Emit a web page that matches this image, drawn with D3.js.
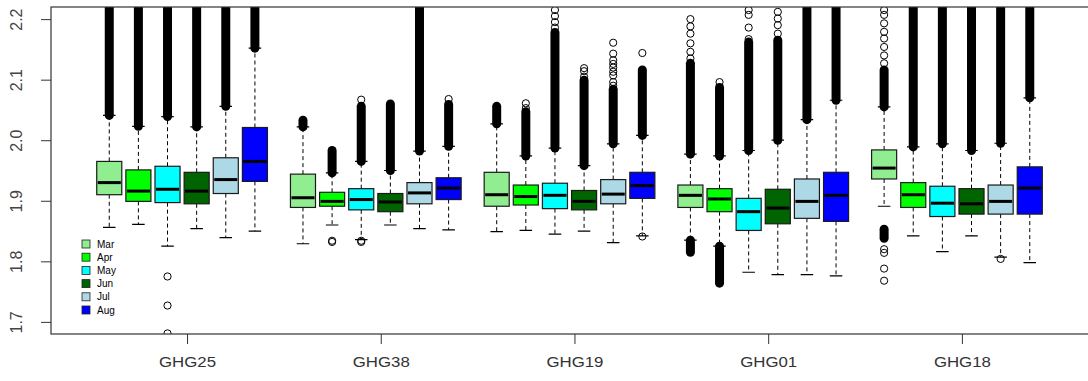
<!DOCTYPE html>
<html>
<head>
<meta charset="utf-8">
<script src="https://cdn.jsdelivr.net/npm/d3@7"></script>
<style>
  body { margin: 0; background: #fff; }
  svg { display: block; font-family: "Liberation Sans", Arial, sans-serif; }
</style>
</head>
<body>
<svg id="chart" width="1088" height="381"></svg>
<script>
const groups = ["GHG25", "GHG38", "GHG19", "GHG01", "GHG18"];
const months = ["Mar", "Apr", "May", "Jun", "Jul", "Aug"];
const monthColors = ["#90ee90", "#00ff00", "#00ffff", "#006400", "#add8e6", "#0000ff"];
const yTicks = [1.7, 1.8, 1.9, 2.0, 2.1, 2.2];

// one row per station, one value per month
const lowerWhisker = [
  [1.856, 1.861, 1.825, 1.854, 1.839, 1.850],
  [1.829, 1.860, 1.836, 1.860, 1.854, 1.852],
  [1.849, 1.851, 1.845, 1.850, 1.831, 1.842],
  [1.835, 1.825, 1.782, 1.778, 1.778, 1.776],
  [1.891, 1.842, 1.816, 1.842, 1.807, 1.798]
];
const q1 = [
  [1.910, 1.899, 1.897, 1.895, 1.912, 1.932],
  [1.889, 1.891, 1.885, 1.882, 1.895, 1.902],
  [1.891, 1.893, 1.887, 1.885, 1.895, 1.904],
  [1.889, 1.882, 1.851, 1.862, 1.871, 1.866],
  [1.936, 1.889, 1.874, 1.878, 1.878, 1.878]
];
const median = [
  [1.930, 1.916, 1.919, 1.916, 1.935, 1.965],
  [1.905, 1.899, 1.902, 1.898, 1.913, 1.921],
  [1.910, 1.907, 1.909, 1.899, 1.911, 1.925],
  [1.909, 1.903, 1.882, 1.888, 1.899, 1.909],
  [1.954, 1.910, 1.896, 1.895, 1.899, 1.921]
];
const q3 = [
  [1.965, 1.951, 1.957, 1.947, 1.971, 2.021],
  [1.944, 1.914, 1.920, 1.912, 1.930, 1.938],
  [1.947, 1.926, 1.929, 1.917, 1.935, 1.947],
  [1.926, 1.920, 1.904, 1.919, 1.936, 1.947],
  [1.984, 1.930, 1.924, 1.920, 1.926, 1.956]
];
const upperWhisker = [
  [2.041, 2.023, 2.039, 2.022, 2.056, 2.152],
  [2.022, 1.946, 1.965, 1.950, 1.982, 1.990],
  [2.027, 1.974, 1.987, 1.958, 1.994, 2.008],
  [1.977, 1.974, 1.983, 2.000, 2.034, 2.066],
  [2.055, 1.989, 1.994, 1.983, 1.995, 2.070]
];
// top of the dense run of outliers above each upper whisker
const highRunTop = [
  [2.25, 2.25, 2.25, 2.25, 2.25, 2.25],
  [2.033, 1.983, 2.056, 2.060, 2.25, 2.059],
  [2.056, 2.047, 2.178, 2.099, 2.084, 2.116],
  [2.127, 2.087, 2.162, 2.165, 2.25, 2.25],
  [2.116, 2.25, 2.25, 2.25, 2.25, 2.25]
];
// dense runs of low outliers: station, month, top, bottom
const lowRuns = [
  ["GHG01", "Mar", 1.835, 1.815],
  ["GHG01", "Apr", 1.825, 1.764],
  ["GHG18", "Mar", 1.853, 1.838]
];
// single outliers: station, month, value
const outliers = [
  ["GHG25", "May", 1.775], ["GHG25", "May", 1.727], ["GHG25", "May", 1.681],
  ["GHG38", "Apr", 1.832], ["GHG38", "Apr", 1.834], ["GHG38", "May", 1.832], ["GHG38", "May", 1.834],
  ["GHG38", "May", 2.067], ["GHG38", "Aug", 2.068],
  ["GHG19", "Apr", 2.053], ["GHG19", "Apr", 2.061],
  ["GHG19", "May", 2.186], ["GHG19", "May", 2.195], ["GHG19", "May", 2.205], ["GHG19", "May", 2.215],
  ["GHG19", "Jun", 2.105], ["GHG19", "Jun", 2.114], ["GHG19", "Jun", 2.119],
  ["GHG19", "Jul", 2.090], ["GHG19", "Jul", 2.096], ["GHG19", "Jul", 2.107], ["GHG19", "Jul", 2.113],
  ["GHG19", "Jul", 2.120], ["GHG19", "Jul", 2.126], ["GHG19", "Jul", 2.132], ["GHG19", "Jul", 2.143], ["GHG19", "Jul", 2.161],
  ["GHG19", "Aug", 2.144], ["GHG19", "Aug", 1.841],
  ["GHG01", "Mar", 2.135], ["GHG01", "Mar", 2.146], ["GHG01", "Mar", 2.160], ["GHG01", "Mar", 2.176],
  ["GHG01", "Mar", 2.188], ["GHG01", "Mar", 2.200],
  ["GHG01", "Apr", 2.096],
  ["GHG01", "May", 2.167], ["GHG01", "May", 2.186], ["GHG01", "May", 2.207], ["GHG01", "May", 2.215],
  ["GHG01", "Jun", 2.176], ["GHG01", "Jun", 2.190], ["GHG01", "Jun", 2.201], ["GHG01", "Jun", 2.212],
  ["GHG18", "Mar", 2.127], ["GHG18", "Mar", 2.140], ["GHG18", "Mar", 2.154], ["GHG18", "Mar", 2.168],
  ["GHG18", "Mar", 2.179], ["GHG18", "Mar", 2.193], ["GHG18", "Mar", 2.207], ["GHG18", "Mar", 2.215],
  ["GHG18", "Mar", 1.820], ["GHG18", "Mar", 1.814], ["GHG18", "Mar", 1.788], ["GHG18", "Mar", 1.768],
  ["GHG18", "Jul", 1.804]
];

const width = 1088, height = 381;
const plot = { left: 51, top: 7, bottom: 334, right: 1100 };
const groupStep = 6.65;     // slots between stations
const halfBox = 0.43;       // half box width, in slots
const runR = 4.5;           // outer radius of the circle runs

const svg = d3.select("#chart");

// slot position of every box; one slot ~ 29px
const x = d3.scaleLinear().domain([-2, 34]).range([plot.left, plot.left + 36 * 29.13]);
const y = d3.scaleLinear().domain([1.68, 2.22]).range([plot.bottom, plot.top]);
const slot = (g, m) => groups.indexOf(g) * groupStep + months.indexOf(m);

let boxes = [];
groups.forEach((g, gi) => months.forEach((m, mi) => {
  boxes.push({
    group: g, month: m, color: monthColors[mi], pos: slot(g, m),
    lo: lowerWhisker[gi][mi], q1: q1[gi][mi], med: median[gi][mi],
    q3: q3[gi][mi], hi: upperWhisker[gi][mi], runTop: highRunTop[gi][mi]
  });
}));

svg.append("defs").append("clipPath").attr("id", "clip")
  .append("rect")
  .attr("x", plot.left).attr("y", plot.top)
  .attr("width", plot.right - plot.left).attr("height", plot.bottom - plot.top);

const g = svg.append("g").attr("clip-path", "url(#clip)");

// whiskers
g.selectAll(".whisker").data(boxes).enter().append("path")
  .attr("class", "whisker")
  .attr("d", d => `M${x(d.pos)},${y(d.q3)}V${y(d.hi)}M${x(d.pos)},${y(d.q1)}V${y(d.lo)}`)
  .attr("stroke", "#000").attr("stroke-width", 1).attr("stroke-dasharray", "4,3").attr("fill", "none");

// staples
g.selectAll(".staple").data(boxes).enter().append("path")
  .attr("class", "staple")
  .attr("d", d => {
    let a = x(d.pos - halfBox / 2), b = x(d.pos + halfBox / 2);
    return `M${a},${y(d.hi)}H${b}M${a},${y(d.lo)}H${b}`;
  })
  .attr("stroke", "#000").attr("stroke-width", 1.2);

// dense outlier runs above
g.selectAll(".run").data(boxes.filter(d => d.runTop > d.hi)).enter().append("rect")
  .attr("class", "run")
  .attr("x", d => x(d.pos) - runR).attr("width", runR * 2)
  .attr("y", d => y(d.runTop) - runR)
  .attr("height", d => y(d.hi) - y(d.runTop) + runR * 2)
  .attr("rx", runR).attr("fill", "#000");

// dense outlier runs below
g.selectAll(".lowrun").data(lowRuns).enter().append("rect")
  .attr("class", "lowrun")
  .attr("x", d => x(slot(d[0], d[1])) - runR).attr("width", runR * 2)
  .attr("y", d => y(d[2]) - runR)
  .attr("height", d => y(d[3]) - y(d[2]) + runR * 2)
  .attr("rx", runR).attr("fill", "#000");

// boxes
g.selectAll(".box").data(boxes).enter().append("rect")
  .attr("class", "box")
  .attr("x", d => x(d.pos - halfBox)).attr("width", d => x(d.pos + halfBox) - x(d.pos - halfBox))
  .attr("y", d => y(d.q3)).attr("height", d => y(d.q1) - y(d.q3))
  .attr("fill", d => d.color).attr("stroke", "#1a1a1a").attr("stroke-width", 1.2);

g.selectAll(".median").data(boxes).enter().append("line")
  .attr("class", "median")
  .attr("x1", d => x(d.pos - halfBox) + 1).attr("x2", d => x(d.pos + halfBox) - 1)
  .attr("y1", d => y(d.med)).attr("y2", d => y(d.med))
  .attr("stroke", "#000").attr("stroke-width", 3);

// single outliers
g.selectAll(".out").data(outliers).enter().append("circle")
  .attr("class", "out")
  .attr("cx", d => x(slot(d[0], d[1]))).attr("cy", d => y(d[2]))
  .attr("r", 3.6).attr("fill", "none").attr("stroke", "#000").attr("stroke-width", 1);

// frame
svg.append("rect")
  .attr("x", plot.left).attr("y", plot.top)
  .attr("width", plot.right - plot.left).attr("height", plot.bottom - plot.top)
  .attr("fill", "none").attr("stroke", "#333").attr("stroke-width", 1.2);

// y axis
const yAxis = svg.append("g").attr("transform", `translate(${plot.left},0)`)
  .call(d3.axisLeft(y).tickValues(yTicks).tickSize(10).tickFormat(d3.format(".1f")));
yAxis.select(".domain").remove();
yAxis.selectAll(".tick line").attr("stroke", "#333");
yAxis.selectAll(".tick text")
  .attr("x", null).attr("dy", "0.35em")
  .attr("transform", "translate(-35,0) rotate(-90)")
  .attr("text-anchor", "middle")
  .attr("font-size", 16).attr("fill", "#444")
  .attr("font-family", "'Liberation Sans', Arial, sans-serif");

// x axis
const xAxis = svg.append("g").attr("transform", `translate(0,${plot.bottom})`)
  .call(d3.axisBottom(x)
    .tickValues(groups.map((d, i) => i * groupStep + 2.67))
    .tickSize(10)
    .tickFormat((d, i) => groups[i]));
xAxis.select(".domain").remove();
xAxis.selectAll(".tick line").attr("stroke", "#333");
xAxis.selectAll(".tick text")
  .attr("y", 28).attr("dy", "0.35em")
  .attr("font-size", 14).attr("fill", "#333")
  .attr("textLength", 57).attr("lengthAdjust", "spacingAndGlyphs")
  .attr("font-family", "'Liberation Sans', Arial, sans-serif");

// legend
const legend = svg.append("g").attr("transform", "translate(82,244)");
const row = legend.selectAll("g").data(months).enter().append("g")
  .attr("transform", (d, i) => `translate(0,${i * 13.2})`);
row.append("rect")
  .attr("x", 0).attr("y", -4).attr("width", 8).attr("height", 8)
  .attr("fill", (d, i) => monthColors[i]).attr("stroke", "#222").attr("stroke-width", 0.8);
row.append("text")
  .attr("x", 15).attr("dy", "0.35em")
  .attr("font-size", 10).attr("fill", "#000")
  .text(d => d);
</script>
</body>
</html>
